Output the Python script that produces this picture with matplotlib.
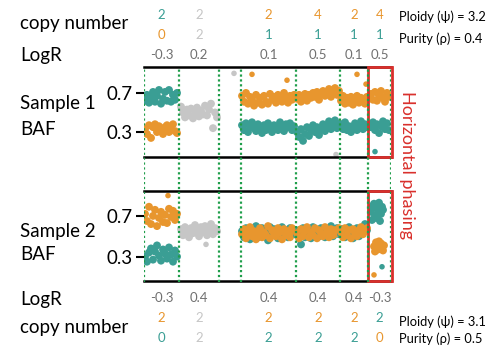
import matplotlib
matplotlib.use("Agg")
import matplotlib.pyplot as plt
from matplotlib.patches import Rectangle
from matplotlib.transforms import blended_transform_factory

plt.rcParams['font.family'] = ['Lato', 'DejaVu Sans']

TEAL = '#3a9e94'
ORANGE = '#e8962e'
GREY = '#c6c6c6'
RED = '#d9302c'
GREEN = '#1f9e4a'

# segment breakpoints (position, arbitrary units) and label columns
seg_edges = [0, 35, 75, 97, 152, 196, 224, 247]
label_pos = [17.5, 55, 124.5, 174, 210, 235.5]

top_logr = ['-0.3', '0.2', '0.1', '0.5', '0.1', '0.5']
top_cn_a = ['2', '2', '2', '4', '2', '4']
top_cn_a_col = [TEAL, GREY, ORANGE, ORANGE, ORANGE, ORANGE]
top_cn_b = ['0', '2', '1', '1', '1', '1']
top_cn_b_col = [ORANGE, GREY, TEAL, TEAL, TEAL, TEAL]

bot_logr = ['-0.3', '0.4', '0.4', '0.4', '0.4', '-0.3']
bot_cn_a = ['2', '2', '2', '2', '2', '2']
bot_cn_a_col = [ORANGE, GREY, ORANGE, ORANGE, ORANGE, TEAL]
bot_cn_b = ['0', '2', '2', '2', '2', '0']
bot_cn_b_col = [TEAL, GREY, TEAL, TEAL, TEAL, ORANGE]

# SNP positions per segment
x1 = [1, 3, 5, 7, 9, 11, 13, 15, 17, 19, 21, 23, 25, 27, 29, 31, 33]
x2 = [37, 39, 41, 43, 45, 47, 49, 51, 53, 55, 57, 59, 61, 63, 65, 67, 69, 71, 73]
x4 = [98, 100, 102, 104, 106, 108, 110, 112, 114, 116, 118, 120, 122, 124,
      126, 128, 130, 132, 134, 136, 138, 140, 142, 144, 146, 148, 150]
x5 = [153, 155, 157, 159, 161, 163, 165, 167, 169, 171, 173, 175, 177, 179,
      181, 183, 185, 187, 189, 191, 193, 195]
x6 = [197, 199, 201, 203, 205, 207, 209, 211, 213, 215, 217, 219, 221, 223]
x7 = [227, 229, 231, 233, 235, 237, 239, 241, 243, 245]

# Sample 1 BAF
s1_teal1 = [0.62, 0.68, 0.60, 0.65, 0.71, 0.61, 0.67, 0.73, 0.59, 0.64, 0.71,
            0.62, 0.73, 0.61, 0.68, 0.63, 0.70]
s1_orng1 = [0.33, 0.28, 0.37, 0.24, 0.35, 0.38, 0.30, 0.36, 0.32, 0.28, 0.35,
            0.37, 0.30, 0.33, 0.38, 0.31, 0.29]
s1_grey2 = [0.56, 0.50, 0.45, 0.53, 0.47, 0.54, 0.44, 0.50, 0.55, 0.46, 0.52,
            0.48, 0.57, 0.47, 0.53, 0.59, 0.34, 0.50, 0.45]
s1_orng4 = [0.67, 0.61, 0.70, 0.59, 0.66, 0.63, 0.57, 0.68, 0.60, 0.65, 0.58,
            0.67, 0.61, 0.59, 0.69, 0.63, 0.66, 0.60, 0.68, 0.64, 0.61, 0.70,
            0.66, 0.60, 0.67, 0.63, 0.68]
s1_teal4 = [0.37, 0.32, 0.39, 0.30, 0.35, 0.40, 0.34, 0.31, 0.38, 0.35, 0.29,
            0.37, 0.32, 0.39, 0.34, 0.30, 0.37, 0.35, 0.32, 0.40, 0.34, 0.31,
            0.38, 0.35, 0.39, 0.32, 0.36]
s1_orng5 = [0.64, 0.68, 0.61, 0.66, 0.69, 0.62, 0.68, 0.65, 0.70, 0.66, 0.71,
            0.63, 0.69, 0.72, 0.67, 0.70, 0.74, 0.66, 0.71, 0.75, 0.68, 0.72]
s1_teal5 = [0.30, 0.25, 0.33, 0.21, 0.28, 0.35, 0.26, 0.32, 0.37, 0.30, 0.35,
            0.27, 0.33, 0.38, 0.31, 0.36, 0.41, 0.33, 0.37, 0.42, 0.34, 0.38]
s1_orng6 = [0.62, 0.67, 0.59, 0.65, 0.60, 0.66, 0.58, 0.63, 0.67, 0.60, 0.65,
            0.62, 0.59, 0.66]
s1_teal6 = [0.38, 0.33, 0.40, 0.32, 0.36, 0.30, 0.35, 0.39, 0.32, 0.36, 0.41,
            0.33, 0.38, 0.35]
s1_orng7 = [0.69, 0.63, 0.71, 0.62, 0.67, 0.72, 0.65, 0.61, 0.70, 0.66]
s1_teal7 = [0.35, 0.40, 0.32, 0.38, 0.29, 0.36, 0.41, 0.33, 0.39, 0.32]
s1_out_x = [90, 108, 143, 213, 222, 231, 192]
s1_out_y = [0.90, 0.89, 0.83, 0.89, 0.79, 0.10, 0.07]
s1_out_c = [GREY, ORANGE, ORANGE, ORANGE, ORANGE, TEAL, GREY]

# Sample 2 BAF
s2_orng1 = [0.72, 0.65, 0.79, 0.62, 0.70, 0.76, 0.60, 0.68, 0.74, 0.64, 0.71,
            0.63, 0.77, 0.69, 0.75, 0.66, 0.72]
s2_teal1 = [0.30, 0.25, 0.34, 0.38, 0.27, 0.35, 0.41, 0.31, 0.26, 0.37, 0.33,
            0.28, 0.39, 0.32, 0.25, 0.36, 0.30]
s2_grey2 = [0.57, 0.51, 0.59, 0.54, 0.49, 0.58, 0.53, 0.61, 0.55, 0.50, 0.59,
            0.54, 0.60, 0.51, 0.56, 0.62, 0.52, 0.58, 0.55]
s2_orng4 = [0.52, 0.57, 0.48, 0.54, 0.59, 0.50, 0.55, 0.47, 0.53, 0.58, 0.49,
            0.54, 0.51, 0.60, 0.48, 0.56, 0.53, 0.50, 0.58, 0.54, 0.47, 0.57,
            0.51, 0.55, 0.49, 0.58, 0.53]
s2_teal4 = [0.55, 0.49, 0.58, 0.52, 0.47, 0.57, 0.53, 0.60, 0.49, 0.54, 0.58,
            0.50, 0.56, 0.46, 0.59, 0.51, 0.57, 0.54, 0.48, 0.53, 0.59, 0.50,
            0.56, 0.49, 0.58, 0.52, 0.54]
s2_orng5 = [0.53, 0.48, 0.57, 0.50, 0.55, 0.59, 0.49, 0.54, 0.51, 0.58, 0.48,
            0.56, 0.53, 0.50, 0.59, 0.54, 0.49, 0.57, 0.51, 0.56, 0.53, 0.58]
s2_teal5 = [0.51, 0.56, 0.42, 0.58, 0.49, 0.53, 0.57, 0.48, 0.59, 0.52, 0.56,
            0.50, 0.58, 0.54, 0.49, 0.57, 0.53, 0.60, 0.50, 0.55, 0.58, 0.52]
s2_orng6 = [0.54, 0.49, 0.58, 0.51, 0.56, 0.48, 0.57, 0.53, 0.50, 0.56, 0.59,
            0.52, 0.55, 0.58]
s2_teal6 = [0.52, 0.57, 0.49, 0.55, 0.59, 0.53, 0.48, 0.56, 0.58, 0.50, 0.55,
            0.57, 0.62, 0.56]
s2_teal7_x = [227, 229, 231, 233, 235, 237, 239, 228, 232, 236, 230, 234, 238]
s2_teal7 = [0.74, 0.80, 0.70, 0.77, 0.83, 0.72, 0.76, 0.66, 0.68, 0.65, 0.82,
            0.71, 0.79]
s2_orng7_x = [230, 232, 234, 236, 238, 240, 231, 235, 239, 233, 237]
s2_orng7 = [0.40, 0.44, 0.37, 0.42, 0.39, 0.41, 0.35, 0.45, 0.36, 0.38, 0.43]
s2_out_x = [24, 62, 230, 238]
s2_out_y = [0.90, 0.42, 0.12, 0.20]
s2_out_c = [ORANGE, GREY, ORANGE, TEAL]

W, H = 493, 347
fig = plt.figure(figsize=(W / 100, H / 100), dpi=100)


def fx(px):
    return px / W


def fy(py):
    return 1 - py / H


left, right = 144, 391
ax1 = fig.add_axes([fx(left), fy(157), fx(right - left), (157 - 67) / H])
ax2 = fig.add_axes([fx(left), fy(281), fx(right - left), (281 - 191) / H])

S = 32
sample1 = [(x1, s1_teal1, TEAL), (x1, s1_orng1, ORANGE), (x2, s1_grey2, GREY),
           (x4, s1_orng4, ORANGE), (x4, s1_teal4, TEAL),
           (x5, s1_orng5, ORANGE), (x5, s1_teal5, TEAL),
           (x6, s1_orng6, ORANGE), (x6, s1_teal6, TEAL),
           (x7, s1_orng7, ORANGE), (x7, s1_teal7, TEAL)]
for xs, ys, c in sample1:
    ax1.scatter(xs, ys, s=S, color=c, edgecolors='none')
ax1.scatter(s1_out_x, s1_out_y, s=16, c=s1_out_c, edgecolors='none')

# mixed segments: draw teal first so orange shows through as in the original
sample2 = [(x1, s2_orng1, ORANGE), (x1, s2_teal1, TEAL), (x2, s2_grey2, GREY),
           (x4, s2_teal4, TEAL), (x4, s2_orng4, ORANGE),
           (x5, s2_teal5, TEAL), (x5, s2_orng5, ORANGE),
           (x6, s2_teal6, TEAL), (x6, s2_orng6, ORANGE),
           (s2_teal7_x, s2_teal7, TEAL), (s2_orng7_x, s2_orng7, ORANGE)]
for xs, ys, c in sample2:
    ax2.scatter(xs, ys, s=S, color=c, edgecolors='none')
ax2.scatter(s2_out_x, s2_out_y, s=16, c=s2_out_c, edgecolors='none')

ax1.set_ylim(0.045, 0.965)
ax2.set_ylim(0.06, 0.945)
for ax in (ax1, ax2):
    ax.set_xlim(seg_edges[0], seg_edges[-1])
    ax.set_xticks([])
    ax.set_yticks([0.3, 0.7])
    ax.set_yticklabels(['0.3', '0.7'])
    ax.tick_params(axis='y', length=6, width=1.5, labelsize=13.5, pad=2)
    ax.spines['left'].set_visible(False)
    ax.spines['right'].set_visible(False)
    ax.spines['top'].set_linewidth(1.8)
    ax.spines['bottom'].set_linewidth(1.8)
    ax.patch.set_alpha(0)
    # horizontal phasing box on the last segment
    tr = blended_transform_factory(ax.transData, ax.transAxes)
    ax.add_patch(Rectangle((seg_edges[-2], 0), seg_edges[-1] - seg_edges[-2] + 1, 1,
                           transform=tr, fill=False, edgecolor=RED, linewidth=2,
                           clip_on=False, zorder=5))

# dotted segment boundaries spanning both panels
ov = fig.add_axes([fx(left), fy(282), fx(right - left), (282 - 67) / H])
ov.set_xlim(seg_edges[0], seg_edges[-1])
ov.set_ylim(0, 1)
ov.axis('off')
ov.vlines(seg_edges, 0, 1, colors=GREEN, linestyles=(0, (1, 1.2)), linewidth=1.6)

# row labels
fs = 13.5
fig.text(fx(20), fy(24), 'copy number', fontsize=fs, va='center')
fig.text(fx(20), fy(56), 'LogR', fontsize=fs, va='center')
fig.text(fx(20), fy(104), 'Sample 1', fontsize=fs, va='center')
fig.text(fx(20), fy(129), 'BAF', fontsize=fs, va='center')
fig.text(fx(20), fy(231), 'Sample 2', fontsize=fs, va='center')
fig.text(fx(20), fy(254), 'BAF', fontsize=fs, va='center')
fig.text(fx(20), fy(300), 'LogR', fontsize=fs, va='center')
fig.text(fx(20), fy(328), 'copy number', fontsize=fs, va='center')

# column labels
tr = blended_transform_factory(ax1.transData, fig.transFigure)
for i, xc in enumerate(label_pos):
    fig.text(xc, fy(15), top_cn_a[i], color=top_cn_a_col[i], fontsize=9.5,
             ha='center', va='center', transform=tr)
    fig.text(xc, fy(35), top_cn_b[i], color=top_cn_b_col[i], fontsize=9.5,
             ha='center', va='center', transform=tr)
    fig.text(xc, fy(55), top_logr[i], color='#707070', fontsize=9.5,
             ha='center', va='center', transform=tr)
    fig.text(xc, fy(298), bot_logr[i], color='#707070', fontsize=9.5,
             ha='center', va='center', transform=tr)
    fig.text(xc, fy(318), bot_cn_a[i], color=bot_cn_a_col[i], fontsize=9.5,
             ha='center', va='center', transform=tr)
    fig.text(xc, fy(338), bot_cn_b[i], color=bot_cn_b_col[i], fontsize=9.5,
             ha='center', va='center', transform=tr)

fig.text(fx(399), fy(17), 'Ploidy (\u03c8) = 3.2', fontsize=9.3, va='center')
fig.text(fx(399), fy(39), 'Purity (\u03c1) = 0.4', fontsize=9.3, va='center')
fig.text(fx(399), fy(322), 'Ploidy (\u03c8) = 3.1', fontsize=9.3, va='center')
fig.text(fx(399), fy(339), 'Purity (\u03c1) = 0.5', fontsize=9.3, va='center')

fig.text(fx(407), fy(165), 'Horizontal phasing', color=RED, fontsize=13,
         rotation=270, ha='center', va='center')

fig.savefig('out.png', dpi=100)
